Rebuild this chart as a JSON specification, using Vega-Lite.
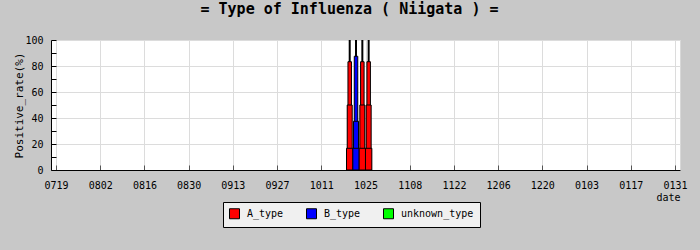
{
  "$schema": "https://vega.github.io/schema/vega-lite/v6.json",
  "autosize": "none",
  "width": 629,
  "height": 130,
  "padding": {"left": 51, "top": 40, "right": 20, "bottom": 80},
  "background": "#c8c8c8",
  "title": {"text": "= Type of Influenza ( Niigata ) =", "font": "DejaVu Sans Mono", "fontSize": 15, "fontWeight": "bold", "color": "black", "anchor": "middle", "frame": "group", "dx": -16, "offset": 18},
  "datasets": {
    "rates": [
      {"date": "2010-10-20", "type": "A_type", "group": "high", "rate": 83.3},
      {"date": "2010-10-20", "type": "A_type", "group": "mid", "rate": 50},
      {"date": "2010-10-20", "type": "A_type", "group": "low", "rate": 16.7},
      {"date": "2010-10-22", "type": "B_type", "group": "high", "rate": 87.5},
      {"date": "2010-10-22", "type": "B_type", "group": "mid", "rate": 37.5},
      {"date": "2010-10-22", "type": "B_type", "group": "low", "rate": 16.7},
      {"date": "2010-10-24", "type": "A_type", "group": "high", "rate": 83.3},
      {"date": "2010-10-24", "type": "A_type", "group": "mid", "rate": 50},
      {"date": "2010-10-24", "type": "A_type", "group": "low", "rate": 16.7},
      {"date": "2010-10-26", "type": "A_type", "group": "high", "rate": 83.3},
      {"date": "2010-10-26", "type": "A_type", "group": "mid", "rate": 50},
      {"date": "2010-10-26", "type": "A_type", "group": "low", "rate": 16.7}
    ],
    "totals": [
      {"date": "2010-10-20", "total": 100},
      {"date": "2010-10-22", "total": 100},
      {"date": "2010-10-24", "total": 100},
      {"date": "2010-10-26", "total": 100}
    ]
  },
  "encoding": {
    "x": {
      "field": "date", "type": "temporal",
      "scale": {"type": "utc", "domain": [{"year": 2010, "month": 7, "date": 19, "utc": true}, {"year": 2011, "month": 1, "date": 31, "utc": true}]},
      "axis": {
        "title": "date",
        "tickCount": 15,
        "values": [
          {"year": 2010, "month": 7, "date": 19, "utc": true},
          {"year": 2010, "month": 8, "date": 2, "utc": true},
          {"year": 2010, "month": 8, "date": 16, "utc": true},
          {"year": 2010, "month": 8, "date": 30, "utc": true},
          {"year": 2010, "month": 9, "date": 13, "utc": true},
          {"year": 2010, "month": 9, "date": 27, "utc": true},
          {"year": 2010, "month": 10, "date": 11, "utc": true},
          {"year": 2010, "month": 10, "date": 25, "utc": true},
          {"year": 2010, "month": 11, "date": 8, "utc": true},
          {"year": 2010, "month": 11, "date": 22, "utc": true},
          {"year": 2010, "month": 12, "date": 6, "utc": true},
          {"year": 2010, "month": 12, "date": 20, "utc": true},
          {"year": 2011, "month": 1, "date": 3, "utc": true},
          {"year": 2011, "month": 1, "date": 17, "utc": true},
          {"year": 2011, "month": 1, "date": 31, "utc": true}
        ],
        "labelExpr": "utcFormat(datum.value, '%m%d')",
        "grid": true,
        "gridColor": "#dcdcdc",
        "tickSize": -5,
        "tickColor": "#555555",
        "domainColor": "black",
        "labelPadding": 15,
        "labelFlush": false,
        "labelOverlap": false,
        "labelFont": "DejaVu Sans Mono",
        "labelFontSize": 10,
        "labelColor": "black",
        "titleFont": "DejaVu Sans Mono",
        "titleFontSize": 10,
        "titleFontWeight": "normal",
        "titleColor": "black",
        "titleAnchor": "end",
        "titlePadding": 2
      }
    }
  },
  "layer": [
    {
      "data": {"name": "totals"},
      "mark": {"type": "rule", "color": "black", "strokeWidth": 2},
      "encoding": {
        "y": {
          "field": "total", "type": "quantitative",
          "scale": {"domain": [0, 100], "nice": false},
          "axis": {
            "title": "Positive_rate(%)",
            "tickCount": 11,
            "values": [0, 10, 20, 30, 40, 50, 60, 70, 80, 90, 100],
            "labelExpr": "datum.value % 20 === 0 ? datum.label : ''",
            "labelOverlap": false,
            "grid": true,
            "gridColor": {"condition": {"test": "datum.value % 20 === 0", "value": "#dcdcdc"}, "value": "rgba(0,0,0,0)"},
            "tickSize": -5,
            "tickColor": "black",
            "domainColor": "black",
            "labelPadding": 13,
            "labelFont": "DejaVu Sans Mono",
            "labelFontSize": 10,
            "labelColor": "black",
            "titleFont": "DejaVu Sans Mono",
            "titleFontSize": 11,
            "titleFontWeight": "normal",
            "titleColor": "black",
            "titlePadding": 0
          }
        }
      }
    },
    {
      "data": {"name": "rates"},
      "transform": [{"filter": "datum.group === 'high'"}],
      "mark": {"type": "bar", "size": 3.5, "stroke": "black", "strokeWidth": 1},
      "encoding": {
        "y": {"field": "rate", "type": "quantitative"},
        "color": {
          "field": "type", "type": "nominal",
          "scale": {"domain": ["A_type", "B_type", "unknown_type"], "range": ["#ff0000", "#0000ff", "#00ff00"]},
          "legend": {
            "orient": "none", "legendX": 172, "legendY": 162,
            "direction": "horizontal", "columns": 3, "title": null,
            "fillColor": "#f0f0f0", "strokeColor": "black", "padding": 6,
            "symbolType": "square", "symbolSize": 100,
            "symbolStrokeColor": "black", "symbolStrokeWidth": 1,
            "labelFont": "DejaVu Sans Mono", "labelFontSize": 10, "labelColor": "black",
            "labelOffset": 7, "columnPadding": 20
          }
        }
      }
    },
    {
      "data": {"name": "rates"},
      "transform": [{"filter": "datum.group === 'mid'"}],
      "mark": {"type": "bar", "size": 5, "stroke": "black", "strokeWidth": 1},
      "encoding": {
        "y": {"field": "rate", "type": "quantitative"},
        "color": {"field": "type", "type": "nominal"}
      }
    },
    {
      "data": {"name": "rates"},
      "transform": [{"filter": "datum.group === 'low'"}],
      "mark": {"type": "bar", "size": 6.4, "stroke": "black", "strokeWidth": 1},
      "encoding": {
        "y": {"field": "rate", "type": "quantitative"},
        "color": {"field": "type", "type": "nominal"}
      }
    }
  ],
  "config": {
    "view": {"stroke": "#d8d8d8", "fill": "white"},
    "axis": {"labelOverlap": false}
  }
}
